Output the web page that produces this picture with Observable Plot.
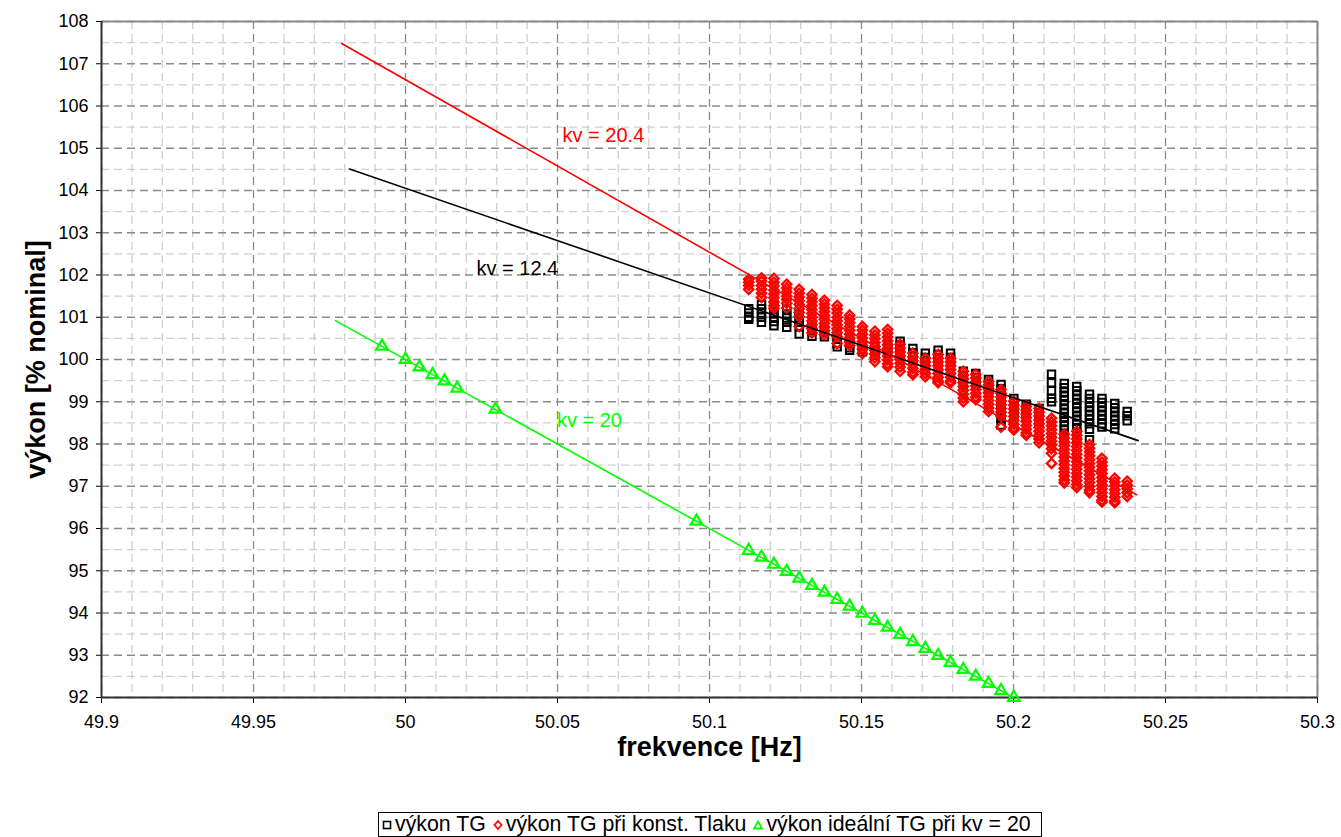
<!DOCTYPE html>
<html>
<head>
<meta charset="utf-8">
<script src="https://cdn.jsdelivr.net/npm/d3@7"></script>
<script src="https://cdn.jsdelivr.net/npm/@observablehq/plot@0.6"></script>
<style>
  html, body { margin: 0; padding: 0; background: #fff; }
  #wrap { position: relative; width: 1341px; height: 837px; font-family: "Liberation Sans", Arial, sans-serif; }
  #legend { position: absolute; left: 378px; top: 812px; width: 662px; height: 23px; border: 1px solid #000;
    font-size: 21.3px; display: flex; align-items: center; white-space: nowrap; box-sizing: content-box; overflow: hidden; }
  #legend .it { display: flex; align-items: center; margin-left: 3px; margin-right: 4px; }
  #legend svg { margin-right: 3px; }
</style>
</head>
<body>
<div id="wrap">
  <div id="chart"></div>
  <div id="legend"></div>
</div>
<script>
// ---- tick labels ----
const xTicks = [49.9, 49.95, 50, 50.05, 50.1, 50.15, 50.2, 50.25, 50.3];
const yTicks = [92, 93, 94, 95, 96, 97, 98, 99, 100, 101, 102, 103, 104, 105, 106, 107, 108];

// ---- frequency bins of the measured columns [Hz] ----
const freqs = [50.1129, 50.1171, 50.1212, 50.1254, 50.1295, 50.1337, 50.1378, 50.1420, 50.1461, 50.1503,
  50.1544, 50.1586, 50.1627, 50.1669, 50.1710, 50.1752, 50.1793, 50.1835, 50.1876, 50.1918,
  50.1959, 50.2001, 50.2042, 50.2084, 50.2125, 50.2167, 50.2208, 50.2250, 50.2291, 50.2333, 50.2374];

// ---- "výkon TG" (black squares), values per column ----
const tgValues = [
  [101.2, 101.1, 101.0, 100.95],
  [101.3, 101.2, 101.1, 101.0, 100.88],
  [101.3, 101.2, 101.1, 101.0, 100.9, 100.8],
  [101.18, 101.08, 100.98, 100.88, 100.76],
  [101.08, 100.98, 100.88, 100.78, 100.6],
  [100.78, 100.68, 100.55],
  [100.74, 100.64, 100.54],
  [100.58, 100.48, 100.38, 100.3],
  [100.48, 100.38, 100.28, 100.22],
  [100.35, 100.25, 100.18],
  [100.3, 100.2, 100.1],
  [100.35, 100.25, 100.15],
  [100.43, 100.33, 100.23, 100.13],
  [100.26, 100.16, 100.06, 99.96],
  [100.15, 100.05, 99.95, 99.85],
  [100.22, 100.12, 100.02, 99.92],
  [100.15, 100.05, 99.95, 99.85],
  [99.72, 99.62, 99.52, 99.42],
  [99.67, 99.57, 99.47, 99.37],
  [99.53, 99.43, 99.33, 99.23],
  [99.41, 99.31, 99.21, 99.11, 99.01, 98.91, 98.81, 98.71, 98.6, 98.45],
  [99.08, 98.98, 98.88, 98.78, 98.68],
  [98.94, 98.84, 98.74, 98.64],
  [98.84, 98.74, 98.64, 98.54],
  [99.65, 99.45, 99.26, 99.08, 99.0],
  [99.43, 99.33, 99.23, 99.13, 99.03, 98.93, 98.83, 98.73, 98.63, 98.53, 98.43, 98.33, 98.2, 98.1],
  [99.36, 99.26, 99.16, 99.06, 98.96, 98.86, 98.76, 98.66, 98.56, 98.46, 98.36, 98.26, 98.1],
  [99.18, 99.08, 98.98, 98.88, 98.78, 98.68, 98.58, 98.48, 98.35, 98.1],
  [99.08, 98.98, 98.88, 98.78, 98.68, 98.58, 98.48, 98.4],
  [98.96, 98.86, 98.76, 98.66, 98.56, 98.46, 98.36],
  [98.77, 98.67, 98.55]
];

// ---- "výkon TG při konst. Tlaku" (red diamonds), values per column ----
const tlakValues = [
  [101.9, 101.83, 101.75, 101.66],
  [101.93, 101.85, 101.75, 101.66, 101.57, 101.47],
  [101.92, 101.83, 101.74, 101.64, 101.55, 101.46, 101.36, 101.27, 101.21],
  [101.78, 101.69, 101.6, 101.5, 101.42, 101.33, 101.22],
  [101.66, 101.57, 101.48, 101.39, 101.3, 101.2, 101.11, 101.02, 100.78],
  [101.54, 101.45, 101.36, 101.27, 101.18, 101.09, 101.0, 100.91, 100.82, 100.73, 100.63],
  [101.4, 101.31, 101.22, 101.13, 101.04, 100.95, 100.86, 100.77, 100.68, 100.59],
  [101.28, 101.19, 101.1, 101.0, 100.91, 100.82, 100.73, 100.64, 100.54, 100.38],
  [101.05, 100.96, 100.87, 100.78, 100.69, 100.6, 100.51, 100.42, 100.33],
  [100.78, 100.69, 100.6, 100.51, 100.42, 100.33, 100.24, 100.14],
  [100.67, 100.58, 100.49, 100.4, 100.31, 100.22, 100.13, 100.04, 99.95],
  [100.71, 100.62, 100.53, 100.44, 100.35, 100.26, 100.17, 100.08, 99.99, 99.9, 99.83],
  [100.36, 100.27, 100.18, 100.09, 100.0, 99.91, 99.82, 99.72],
  [100.15, 100.06, 99.97, 99.88, 99.79, 99.7, 99.64],
  [100.03, 99.94, 99.85, 99.76, 99.67, 99.59],
  [100.12, 100.03, 99.94, 99.85, 99.76, 99.67, 99.58, 99.49, 99.45],
  [100.03, 99.94, 99.85, 99.76, 99.67, 99.58, 99.49, 99.45],
  [99.72, 99.63, 99.54, 99.45, 99.36, 99.27, 99.18, 99.09, 99.0],
  [99.65, 99.56, 99.47, 99.38, 99.29, 99.2, 99.11, 99.05],
  [99.48, 99.39, 99.3, 99.21, 99.12, 99.03, 98.94, 98.85, 98.77],
  [99.29, 99.2, 99.11, 99.02, 98.93, 98.84, 98.75, 98.66, 98.4],
  [99.01, 98.92, 98.83, 98.74, 98.65, 98.56, 98.47, 98.38, 98.33],
  [98.89, 98.8, 98.71, 98.62, 98.53, 98.44, 98.35, 98.26, 98.21],
  [98.84, 98.75, 98.66, 98.57, 98.48, 98.39, 98.3, 98.21, 98.12, 98.03],
  [98.61, 98.52, 98.43, 98.34, 98.25, 98.16, 98.07, 97.98, 97.89, 97.78, 97.54],
  [98.23, 98.14, 98.05, 97.96, 97.87, 97.78, 97.69, 97.6, 97.51, 97.42, 97.33, 97.24, 97.15, 97.08],
  [98.3, 98.21, 98.12, 98.03, 97.94, 97.85, 97.76, 97.67, 97.58, 97.49, 97.4, 97.31, 97.22, 97.13, 97.04, 96.97],
  [97.99, 97.9, 97.81, 97.72, 97.63, 97.54, 97.45, 97.36, 97.27, 97.18, 97.09, 97.0, 96.91, 96.85],
  [97.66, 97.57, 97.48, 97.39, 97.3, 97.21, 97.12, 97.03, 96.94, 96.85, 96.76, 96.67, 96.63],
  [97.19, 97.1, 97.01, 96.92, 96.83, 96.74, 96.65, 96.61],
  [97.12, 97.03, 96.94, 96.85, 96.76]
];

// ---- "výkon ideální TG při kv = 20" (green triangles) ----
const idealF = [49.9923, 50.0, 50.0046, 50.0089, 50.0128, 50.017, 50.0296, 50.0957,
  50.1129, 50.1171, 50.1212, 50.1254, 50.1295, 50.1337, 50.1378, 50.142, 50.1461, 50.1503, 50.1544,
  50.1586, 50.1627, 50.1669, 50.171, 50.1752, 50.1793, 50.1835, 50.1876, 50.1918, 50.1959, 50.2001];
const idealP = [100.31, 100.0, 99.82, 99.64, 99.49, 99.32, 98.82, 96.17,
  95.48, 95.32, 95.15, 94.98, 94.82, 94.65, 94.49, 94.32, 94.16, 93.99, 93.82,
  93.66, 93.49, 93.32, 93.16, 92.99, 92.83, 92.66, 92.5, 92.33, 92.16, 92.0];

// ---- trend lines (start / end points) ----
const lineRedF = [49.979, 50.2405];   const lineRedP = [107.48, 96.8];
const lineBlackF = [49.9816, 50.241]; const lineBlackP = [104.51, 98.08];
const lineGreenF = [49.977, 50.2];    const lineGreenP = [100.92, 92.0];

// ---- labels ----
const labelText = ["kv = 20.4", "kv = 12.4", "kv = 20"];
const labelF = [50.0651, 50.0368, 50.0605];
const labelP = [105.30, 102.15, 98.56];
const labelColor = ["#ff0000", "#000000", "#00ff00"];

const seriesNames = ["výkon TG", "výkon TG při konst. Tlaku", "výkon ideální TG při kv = 20"];

// ---- build tables ----
const tgRows = freqs.flatMap((f, i) => tgValues[i].map(p => ({f, p})));
const tlakRows = freqs.flatMap((f, i) => tlakValues[i].map(p => ({f, p})));
const idealRows = idealF.map((f, i) => ({f, p: idealP[i]}));
const mkLine = (F, P) => F.map((f, i) => ({f, p: P[i]}));
const labels = labelText.map((t, i) => ({t, f: labelF[i], p: labelP[i], c: labelColor[i]}));

const xMinor = d3.ticks(49.9, 50.3, 40).filter(v => !xTicks.some(t => Math.abs(t - v) < 1e-9));
const yMinor = d3.range(92.5, 108, 1);

const font = '"Liberation Sans", Arial, sans-serif';
const dash = "8,5";

const chart = Plot.plot({
  width: 1341,
  height: 800,
  marginLeft: 101,
  marginRight: 24,
  marginTop: 21,
  marginBottom: 103,
  style: {fontFamily: font, fontSize: "18px", color: "#000", background: "#fff", overflow: "visible"},
  x: {domain: [49.9, 50.3], ticks: xTicks, tickFormat: d => String(+d.toFixed(2)), tickSize: 6, tickPadding: 12, label: null},
  y: {domain: [92, 108], ticks: yTicks, tickFormat: d => String(d), tickSize: 5, tickPadding: 8, label: null},
  marks: [
    Plot.ruleX(xMinor, {stroke: "#cfcfcf", strokeWidth: 1.3, strokeDasharray: dash}),
    Plot.ruleY(yMinor, {stroke: "#cfcfcf", strokeWidth: 1.3, strokeDasharray: dash}),
    Plot.ruleX(xTicks, {stroke: "#8a8a8a", strokeWidth: 1.3, strokeDasharray: dash}),
    Plot.ruleY(yTicks, {stroke: "#8a8a8a", strokeWidth: 1.3, strokeDasharray: dash}),
    Plot.ruleX([50.3], {stroke: "#8a8a8a", strokeWidth: 2}),
    Plot.ruleY([108], {stroke: "#8a8a8a", strokeWidth: 2}),
    Plot.ruleX([49.9], {stroke: "#333", strokeWidth: 2}),
    Plot.ruleY([92], {stroke: "#333", strokeWidth: 2}),
    Plot.dot(tgRows, {x: "f", y: "p", symbol: "square", r: 4.2, stroke: "#000", strokeWidth: 2, fill: "none"}),
    Plot.dot(tlakRows, {x: "f", y: "p", symbol: "diamond2", r: 4.2, stroke: "#ff0000", strokeWidth: 2.3, fill: "none"}),
    Plot.dot(idealRows, {x: "f", y: "p", symbol: "triangle", r: 4.3, stroke: "#00ff00", strokeWidth: 2.2, fill: "none"}),
    Plot.line(mkLine(lineGreenF, lineGreenP), {x: "f", y: "p", stroke: "#00ff00", strokeWidth: 1.6}),
    Plot.line(mkLine(lineBlackF, lineBlackP), {x: "f", y: "p", stroke: "#000", strokeWidth: 1.6}),
    Plot.line(mkLine(lineRedF, lineRedP), {x: "f", y: "p", stroke: "#ff0000", strokeWidth: 1.6}),
    Plot.text(labels, {x: "f", y: "p", text: "t", fill: "c", fontSize: 20, fontFamily: font}),
    Plot.text(["frekvence [Hz]"], {frameAnchor: "bottom", dy: 50, textAnchor: "middle", lineAnchor: "middle", fontSize: 27, fontWeight: "bold", fontFamily: font, fill: "#000"}),
    Plot.text(["výkon [% nominal]"], {frameAnchor: "left", dx: -65, rotate: -90, textAnchor: "middle", lineAnchor: "middle", fontSize: 27, fontWeight: "bold", fontFamily: font, fill: "#000"})
  ]
});
document.getElementById("chart").appendChild(chart);

// ---- legend ----
const symbols = [
  `<svg width="10" height="12"><rect x="1.5" y="2.5" width="7" height="7" fill="none" stroke="#000" stroke-width="1.6"/></svg>`,
  `<svg width="10" height="12"><path d="M5 2 L8.5 6 L5 10 L1.5 6 Z" fill="none" stroke="#ff0000" stroke-width="1.8"/></svg>`,
  `<svg width="10" height="12"><path d="M5 2.5 L9 9.5 L1 9.5 Z" fill="none" stroke="#00ff00" stroke-width="1.8"/></svg>`
];
const leg = document.getElementById("legend");
seriesNames.forEach((n, i) => {
  const d = document.createElement("div");
  d.className = "it";
  d.innerHTML = symbols[i] + `<span>${n}</span>`;
  leg.appendChild(d);
});
</script>
</body>
</html>
